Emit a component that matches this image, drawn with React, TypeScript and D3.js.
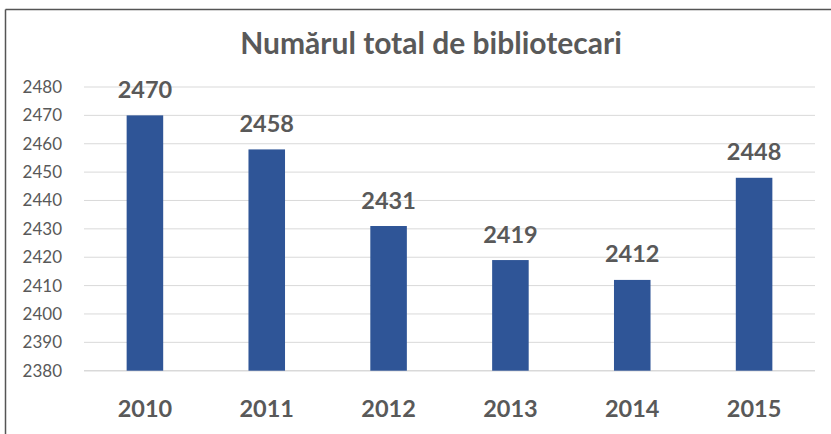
import React from "react";
import * as d3 from "d3";

const categories = ["2010", "2011", "2012", "2013", "2014", "2015"];
const values = [2470, 2458, 2431, 2419, 2412, 2448];
const yTicks = [2380, 2390, 2400, 2410, 2420, 2430, 2440, 2450, 2460, 2470, 2480];
const title = "Numărul total de bibliotecari";

const W = 831;
const H = 434;
const plotLeft = 84;
const plotRight = 815;
const plotTop = 87;
const plotBottom = 370.7;
const FONT = "Lato, 'Open Sans', sans-serif";
const GRAY = "#595959";

export default function App() {
  const x = d3
    .scaleBand<string>()
    .domain(categories)
    .range([plotLeft, plotRight])
    .paddingInner(0.7)
    .paddingOuter(0.35);
  const y = d3.scaleLinear().domain([2380, 2480]).range([plotBottom, plotTop]);

  return (
    <svg
      width={W}
      height={H}
      style={{ position: "absolute", left: 0, top: 0, background: "#fff" }}
    >
      <rect x={0} y={0} width={W} height={H} fill="#fff" />
      {/* outer border */}
      <line x1={5.5} y1={9.5} x2={W} y2={9.5} stroke="#555" strokeWidth={1.5} />
      <line x1={5.5} y1={9.5} x2={5.5} y2={H} stroke="#555" strokeWidth={1.5} />
      <text
        x={431}
        y={54}
        textAnchor="middle"
        fontFamily={FONT}
        fontWeight="bold"
        fontSize={30}
        fill={GRAY}
      >
        {title}
      </text>
      {yTicks.map((t) => (
        <g key={t}>
          <line
            x1={plotLeft}
            x2={plotRight}
            y1={y(t)}
            y2={y(t)}
            stroke="#d9d9d9"
            strokeWidth={t === 2380 ? 1.5 : 1}
          />
          <text
            x={62}
            y={y(t) + 6}
            textAnchor="end"
            fontFamily={FONT}
            fontSize={17}
            fill={GRAY}
          >
            {t}
          </text>
        </g>
      ))}
      {categories.map((c, i) => (
        <g key={c}>
          <rect
            x={x(c)}
            y={y(values[i])}
            width={x.bandwidth()}
            height={y(2380) - y(values[i])}
            fill="#2F5597"
          />
          <text
            x={(x(c) as number) + x.bandwidth() / 2}
            y={y(values[i]) - 17.5}
            textAnchor="middle"
            fontFamily={FONT}
            fontWeight="bold"
            fontSize={23.5}
            fill={GRAY}
          >
            {values[i]}
          </text>
          <text
            x={(x(c) as number) + x.bandwidth() / 2}
            y={417}
            textAnchor="middle"
            fontFamily={FONT}
            fontWeight="bold"
            fontSize={23.5}
            fill={GRAY}
          >
            {c}
          </text>
        </g>
      ))}
    </svg>
  );
}
